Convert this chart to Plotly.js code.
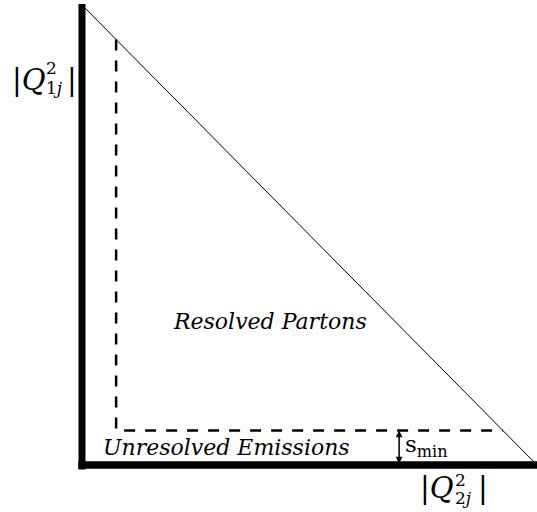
<!DOCTYPE html>
<html>
<head>
<meta charset="utf-8">
<script src="https://cdn.plot.ly/plotly-3.0.1.min.js"></script>
<style>html,body{margin:0;padding:0;background:#fff;}#chart{width:537px;height:512px;}</style>
</head>
<body>
<div id="chart"></div>
<script>
// Phase-space schematic: |Q^2_2j| on x, |Q^2_1j| on y (normalised 0..1)
const axisLeftX = [0, 0];
const axisLeftY = [-0.01, 1.002];
const axisBottomX = [-0.008, 1.0];
const axisBottomY = [0, 0];
const diagonalX = [0, 1];
const diagonalY = [1, 0];
const sMin = 0.075;
const cutX = [sMin, sMin, 1 - sMin];
const cutY = [1 - sMin, sMin, sMin];
const arrowX = 0.697;
const labels = {
  resolved: "Resolved Partons",
  unresolved: "Unresolved Emissions",
  smin: "s<sub>min</sub>"
};

const serif = "DejaVu Serif";
const traces = [
  {x: axisLeftX, y: axisLeftY, mode: "lines", line: {color: "#000", width: 7}, hoverinfo: "skip"},
  {x: axisBottomX, y: axisBottomY, mode: "lines", line: {color: "#000", width: 7.5}, hoverinfo: "skip"},
  {x: diagonalX, y: diagonalY, mode: "lines", line: {color: "#000", width: 1}, hoverinfo: "skip"},
  {x: cutX, y: cutY, mode: "lines", line: {color: "#000", width: 2.5, dash: "11px,10px"}, hoverinfo: "skip"}
];

function ann(text, x, y, size, xanchor, italic) {
  return {text: text, x: x, y: y, xref: "x", yref: "y", showarrow: false,
    xanchor: xanchor, yanchor: "middle",
    font: {family: serif, size: size, color: "#000", style: italic ? "italic" : "normal"}};
}

const annotations = [
  ann(labels.resolved, 0.413, 0.311, 22, "center", true),
  ann(labels.unresolved, 0.3165, 0.037, 22, "center", true),
  // left axis label |Q^2_{1j}|
  ann("|<i>Q</i>", -0.0747, 0.837, 29, "right", false),
  ann("2", -0.0835, 0.863, 17, "left", false),
  ann("1<i>j</i>", -0.0835, 0.820, 17, "left", false),
  ann("|", -0.0375, 0.837, 29, "left", false),
  // bottom axis label |Q^2_{2j}|
  ann("|<i>Q</i>", 0.823, -0.05, 29, "right", false),
  ann("2", 0.816, -0.0330, 17, "left", false),
  ann("2<i>j</i>", 0.816, -0.0720, 17, "left", false),
  ann("|", 0.866, -0.05, 29, "left", false),
  // s_min
  ann(labels.smin, 0.7055, 0.042, 23, "left", false),
  {x: arrowX, y: sMin, ax: arrowX, ay: 0, xref: "x", yref: "y", axref: "x", ayref: "y",
   text: "", showarrow: true, arrowside: "end+start", arrowhead: 2, startarrowhead: 2,
   arrowsize: 0.9, startarrowsize: 0.9, arrowwidth: 1.5, arrowcolor: "#000", standoff: 0, startstandoff: 0}
];

const layout = {
  width: 537, height: 512,
  margin: {l: 0, r: 0, t: 0, b: 0},
  paper_bgcolor: "#fff", plot_bgcolor: "#fff",
  showlegend: false,
  xaxis: {range: [-0.1802, 1.0], visible: false, fixedrange: true},
  yaxis: {range: [-0.1022, 1.0109], visible: false, fixedrange: true},
  annotations: annotations
};

Plotly.newPlot("chart", traces, layout, {displayModeBar: false, staticPlot: true});
</script>
</body>
</html>
